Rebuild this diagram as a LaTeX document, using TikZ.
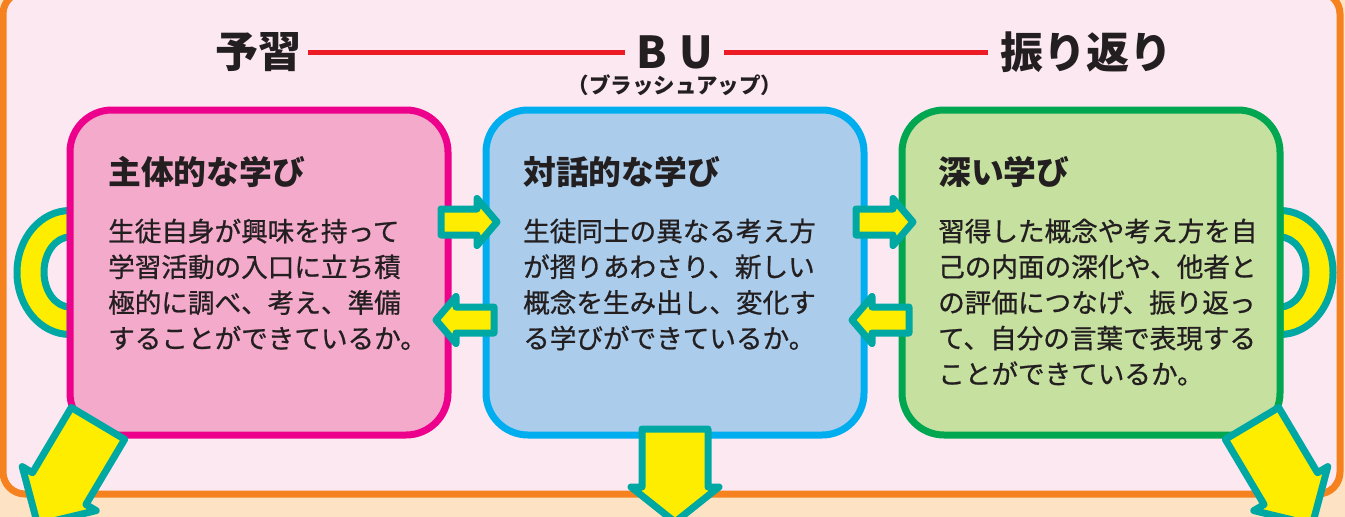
\documentclass[tikz,border=0pt]{standalone}
\usepackage{fontspec}
\newfontfamily\jp{Noto Sans CJK JP}
\newfontfamily\jpbody{Noto Sans CJK JP}[FakeBold=0.8]
\definecolor{bgpeach}{HTML}{FDE2C4}
\definecolor{framefill}{HTML}{FCE8F1}
\definecolor{frameorange}{HTML}{F5821F}
\definecolor{linered}{HTML}{ED1C24}
\definecolor{pinkfill}{HTML}{F3AACB}
\definecolor{pinkline}{HTML}{EC008C}
\definecolor{bluefill}{HTML}{ABCDEB}
\definecolor{blueline}{HTML}{00AEEF}
\definecolor{greenfill}{HTML}{C6E0A0}
\definecolor{greenline}{HTML}{00A650}
\definecolor{tealline}{HTML}{00A8A4}
\definecolor{arrowyellow}{HTML}{FFED00}
\definecolor{ink}{HTML}{231F20}
\tikzset{
  card/.style={rounded corners=42pt, line width=7pt, minimum width=378pt, minimum height=325pt},
  blockarrow/.style={draw=tealline, fill=arrowyellow, line width=7pt, line join=round},
  cardtitle/.style={anchor=west, inner sep=0pt, text=ink, font=\jp\bfseries\fontsize{32.8}{36}\selectfont},
  cardbody/.style={anchor=north west, inner sep=0pt, align=left, text=ink, font=\jpbody\fontsize{26.6}{35.7}\selectfont},
  headword/.style={inner sep=0pt, text=ink, font=\jp\bfseries\fontsize{43}{46}\selectfont},
  redline/.style={draw=linered, line width=5pt}
}
\begin{document}
\begin{tikzpicture}[x=1pt,y=1pt]
\useasboundingbox (0,0) rectangle (1345,-517);
\clip (0,0) rectangle (1345,-517);
% background
\fill[bgpeach] (0,0) rectangle (1345,-517);
\draw[frameorange, fill=framefill, line width=7pt, rounded corners=22pt] (3,8) rectangle (1340,-494);
% headings
\node[headword] (yoshu) at (258,-52) {予習};
\node[inner sep=0pt, text=ink, font=\jp\bfseries\fontsize{44}{48}\selectfont] (bu) at (675,-52) {B\hspace{12pt}U};
\node[headword] (furi) at (1086,-52) {振り返り};
\node[inner sep=0pt, text=ink, font=\jp\bfseries\fontsize{21.5}{24}\selectfont] (bufull) at (675,-85) {（ブラッシュアップ）};
\coordinate (l1) at (308,-52);
\coordinate (l2) at (625,-52);
\coordinate (l3) at (724,-52);
\coordinate (l4) at (988,-52);
\draw[redline] (l1) -- (l2);
\draw[redline] (l3) -- (l4);
% handles
\draw[blockarrow] (70,-210.5) arc[start angle=90, end angle=270, x radius=53, y radius=62]
  -- (70,-307) arc[start angle=270, end angle=90, x radius=26, y radius=35] -- cycle;
\draw[blockarrow] (1280,-210.5) arc[start angle=90, end angle=-90, x radius=53, y radius=62]
  -- (1280,-307) arc[start angle=-90, end angle=90, x radius=26, y radius=35] -- cycle;
% cards
\node[card, draw=pinkline, fill=pinkfill] (b1) at (259,-272.5) {};
\node[card, draw=blueline, fill=bluefill] (b2) at (675,-272.5) {};
\node[card, draw=greenline, fill=greenfill] (b3) at (1091,-272.5) {};
\node[cardtitle] (t1) at (108,-172) {主体的な学び};
\node[cardtitle] (t2) at (523,-172) {対話的な学び};
\node[cardtitle] (t3) at (938,-172) {深い学び};
\node[cardbody] (x1) at (108,-218.5) {生徒自身が興味を持って\\学習活動の入口に立ち積\\極的に調べ、考え、準備\\することができているか。};
\node[cardbody] (x2) at (523,-218.5) {生徒同士の異なる考え方\\が摺りあわさり、新しい\\概念を生み出し、変化す\\る学びができているか。};
\node[cardbody] (x3) at (938,-218.5) {習得した概念や考え方を自\\己の内面の深化や、他者と\\の評価につなげ、振り返っ\\て、自分の言葉で表現する\\ことができているか。};
% small arrows
\draw[blockarrow] (441,-209) -- (477,-209) -- (477,-198.5) -- (497,-222) -- (477,-245.5) -- (477,-235) -- (441,-235) -- cycle;
\draw[blockarrow] (494,-307) -- (456,-307) -- (456,-296.5) -- (436,-320) -- (456,-343.5) -- (456,-333) -- (494,-333) -- cycle;
\draw[blockarrow] (856,-209) -- (893,-209) -- (893,-198.5) -- (913,-222) -- (893,-245.5) -- (893,-235) -- (856,-235) -- cycle;
\draw[blockarrow] (909,-307) -- (872,-307) -- (872,-296.5) -- (852,-320) -- (872,-343.5) -- (872,-333) -- (909,-333) -- cycle;
% bottom arrows
\draw[blockarrow] (642,-429) -- (708,-429) -- (708,-487) -- (719,-487) -- (675,-522) -- (631,-487) -- (642,-487) -- cycle;
\draw[blockarrow] (71.3,-407.5) -- (124.7,-439.3) -- (85.9,-504.5) -- (96.2,-510.6) -- (37.7,-524.7) -- (22.2,-466.6) -- (32.5,-472.7) -- cycle;
\draw[blockarrow] (1278.7,-407.5) -- (1225.3,-439.3) -- (1264.1,-504.5) -- (1253.8,-510.6) -- (1312.3,-524.7) -- (1327.8,-466.6) -- (1317.5,-472.7) -- cycle;
\end{tikzpicture}
\end{document}
